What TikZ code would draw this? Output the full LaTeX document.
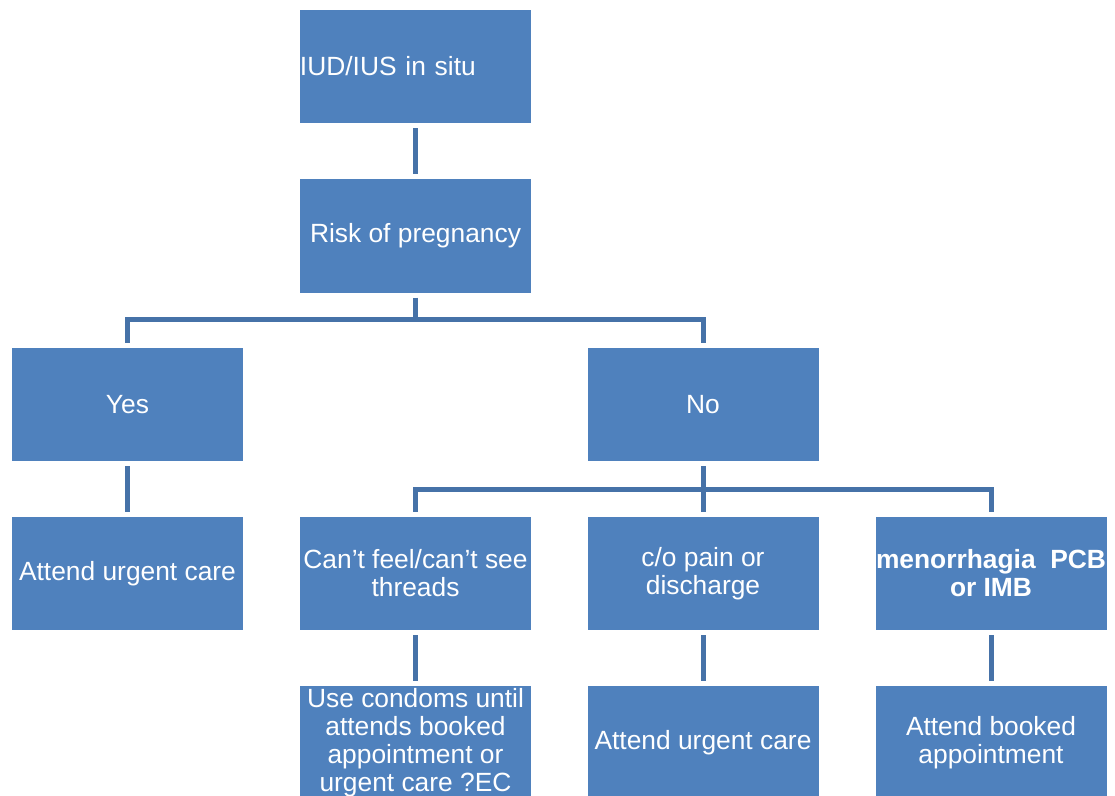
\documentclass[tikz,border=0pt]{standalone}
\usepackage{fontspec}
\setmainfont{Liberation Sans}
\definecolor{boxblue}{HTML}{4F81BD}
\definecolor{linkblue}{HTML}{4672A8}

\begin{document}
\begin{tikzpicture}[x=0.03cm, y=-0.03cm,
    box/.style={fill=boxblue, text=white, minimum width=6.93cm, minimum height=3.39cm,
        inner sep=0pt, align=center, font=\fontsize{22.5}{23.8}\selectfont},
    link/.style={draw=linkblue, line width=0.15cm, shorten <=0.15cm, shorten >=0.15cm}]
    \clip (0,0) rectangle (1115,796); % page size of the reference

    % top of the tree
    \node[box, text width=6.93cm, align=left] (iud) at (415.5,66.5) {IUD/IUS in situ};
    \node[box] (risk) at (415.5,236) {Risk of pregnancy};
    \node[box] (yes) at (127.5,404.5) {Yes};
    \node[box] (no) at (703,404.5) {No};

    % second and third rows
    \node[box] (urgentyes) at (127.5,573.5) {Attend urgent care};
    \node[box] (threads) at (415.5,573.5) {Can’t feel/can’t see\\threads};
    \node[box] (pain) at (703,573.5) {c/o pain or\\discharge};
    \node[box, font=\fontsize{22.5}{23.8}\selectfont\bfseries] (bleed) at (991,573.5) {menorrhagia~~PCB\\or IMB};
    \node[box] (condoms) at (415.5,742.5) {Use condoms until\\attends booked\\appointment or\\urgent care ?EC};
    \node[box] (urgentno) at (703,742.5) {Attend urgent care};
    \node[box] (booked) at (991,742.5) {Attend booked\\appointment};

    \coordinate (split1) at (415.5,320);
    \coordinate (split2) at (703,489);

    \draw[link] (iud) -- (risk);
    \draw[link, shorten >=0pt] (risk) -- (split1);
    \draw[link] (yes) |- (split1) -| (no);
    \draw[link] (yes) -- (urgentyes);
    \draw[link, shorten >=0pt] (no) -- (split2);
    \draw[link] (threads) |- (split2) -| (bleed);
    \draw[link, shorten <=0pt] (split2) -- (pain);
    \foreach \a/\b in {threads/condoms, pain/urgentno, bleed/booked}
    \draw[link] (\a) -- (\b);
\end{tikzpicture}
\end{document}
